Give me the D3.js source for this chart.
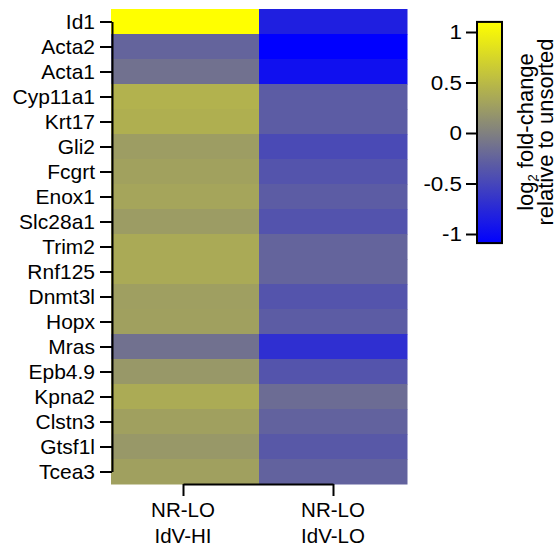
<!DOCTYPE html>
<html>
<head>
<meta charset="utf-8">
<script src="https://cdn.jsdelivr.net/npm/d3@7"></script>
<style>
	body { margin: 0; background: #fff; }
	text { font-family: "Liberation Sans", Arial, sans-serif; fill: #000; }
	.axis path, .axis line { stroke: #000; stroke-width: 2px; }
</style>
</head>
<body>
<div id="chart"></div>
<script>

// data
var genes = ["Id1", "Acta2", "Acta1", "Cyp11a1", "Krt17", "Gli2", "Fcgrt", "Enox1", "Slc28a1", "Trim2",
	"Rnf125", "Dnmt3l", "Hopx", "Mras", "Epb4.9", "Kpna2", "Clstn3", "Gtsf1l", "Tcea3"];
var groups = [["NR-LO", "IdV-HI"], ["NR-LO", "IdV-LO"]];
var valuesHi = [1.2, -0.24, -0.13, 0.43, 0.41, 0.25, 0.29, 0.32, 0.24, 0.36,
	0.36, 0.27, 0.28, -0.13, 0.21, 0.37, 0.28, 0.21, 0.28];
var valuesLo = [-0.83, -1.2, -0.96, -0.31, -0.31, -0.46, -0.38, -0.31, -0.39, -0.24,
	-0.24, -0.38, -0.31, -0.70, -0.38, -0.17, -0.26, -0.34, -0.26];
var cbarTicks = [1, 0.5, 0, -0.5, -1];
var cbarExtent = [-1.09, 1.1];

var chart = {
	width: 558,
	height: 546,
	heat: { left: 111, right: 407, top: 9, bottom: 484 },
	cbar: { left: 477, right: 502, top: 22, bottom: 243 }
};

var cells = [];
genes.forEach(function (g, i) {
	cells.push({ gene: g, group: 0, value: valuesHi[i] });
	cells.push({ gene: g, group: 1, value: valuesLo[i] });
});

var color = d3.scaleLinear()
	.domain([-1.1, 0, 1.1])
	.range(["#0000ff", "#808080", "#ffff00"])
	.clamp(true);

var svg = d3.select("#chart")
	.append("svg")
	.attr("width", chart.width)
	.attr("height", chart.height);

var xBand = d3.scaleBand()
	.domain([0, 1])
	.range([chart.heat.left, chart.heat.right]);

var yBand = d3.scaleBand()
	.domain(genes)
	.range([chart.heat.top, chart.heat.bottom]);

// heatmap cells
svg.append("g")
	.selectAll("rect")
	.data(cells)
	.enter()
	.append("rect")
	.attr("x", function (d) { return xBand(d.group); })
	.attr("y", function (d) { return yBand(d.gene); })
	.attr("width", xBand.bandwidth() + 0.5)
	.attr("height", yBand.bandwidth() + 0.5)
	.attr("fill", function (d) { return color(d.value); });

// y axis: line runs from first to last tick only
var yPoint = d3.scalePoint()
	.domain(genes)
	.range([yBand(genes[0]) + yBand.bandwidth() / 2, yBand(genes[genes.length - 1]) + yBand.bandwidth() / 2]);

var yAxis = svg.append("g")
	.attr("class", "axis")
	.attr("transform", "translate(" + (chart.heat.left + 1) + ",0)")
	.call(d3.axisLeft(yPoint).tickSize(12).tickSizeOuter(0));

stretchText(yAxis.selectAll(".tick text"), -17, 20, 1.05);

// x axis bracket
var xPoint = d3.scalePoint()
	.domain([0, 1])
	.range([xBand(0) + xBand.bandwidth() / 2 - 2, xBand(1) + xBand.bandwidth() / 2]);

var xAxis = svg.append("g")
	.attr("class", "axis")
	.attr("transform", "translate(0," + (chart.heat.bottom) + ")")
	.call(d3.axisBottom(xPoint).tickSize(12).tickSizeOuter(0).tickFormat(""));

groups.forEach(function (lines, i) {
	lines.forEach(function (s, j) {
		svg.append("text")
			.attr("text-anchor", "middle")
			.attr("font-size", 20.5)
			.attr("transform", "translate(" + xPoint(i) + "," + (517 + j * 26) + ")")
			.text(s);
	});
});

// colour bar
var cbarScale = d3.scaleLinear()
	.domain([-1, 1])
	.range([234, 32]);

var defs = svg.append("defs");
var grad = defs.append("linearGradient")
	.attr("id", "cbar-grad")
	.attr("x1", 0).attr("y1", 1)
	.attr("x2", 0).attr("y2", 0);

d3.range(0, 1.0001, 0.05).forEach(function (t) {
	var v = cbarExtent[0] + t * (cbarExtent[1] - cbarExtent[0]);
	grad.append("stop")
		.attr("offset", t)
		.attr("stop-color", color(v));
});

svg.append("rect")
	.attr("x", chart.cbar.left)
	.attr("y", cbarScale(cbarExtent[1]))
	.attr("width", chart.cbar.right - chart.cbar.left)
	.attr("height", cbarScale(cbarExtent[0]) - cbarScale(cbarExtent[1]))
	.attr("fill", "url(#cbar-grad)")
	.style("stroke", "#000")
	.style("stroke-width", 2);

var cAxis = svg.append("g")
	.attr("class", "axis")
	.attr("transform", "translate(" + chart.cbar.left + ",0)")
	.call(d3.axisLeft(cbarScale).tickValues(cbarTicks).tickSize(11).tickSizeOuter(0)
		.tickFormat(function (d) { return String(d); }));

cAxis.select(".domain").remove();
stretchText(cAxis.selectAll(".tick text"), -15, 19.5, 1.15);

// colour bar title
var title = svg.append("text")
	.attr("transform", "translate(533,132) rotate(-90)")
	.attr("text-anchor", "middle")
	.attr("font-size", 22);
title.append("tspan").text("log");
title.append("tspan").attr("font-size", 13).attr("dy", 4).text("2");
title.append("tspan").attr("dy", -4).text(" fold-change");

svg.append("text")
	.attr("transform", "translate(553,132) rotate(-90)")
	.attr("text-anchor", "middle")
	.attr("font-size", 22)
	.text("relative to unsorted");


function stretchText(sel, x, size, k) {
	sel.attr("x", null)
		.attr("dy", "0.35em")
		.attr("font-size", size)
		.attr("text-anchor", "end")
		.attr("font-family", null)
		.attr("transform", "translate(" + x + ",0) scale(" + k + ",1)");
}

</script>
</body>
</html>
